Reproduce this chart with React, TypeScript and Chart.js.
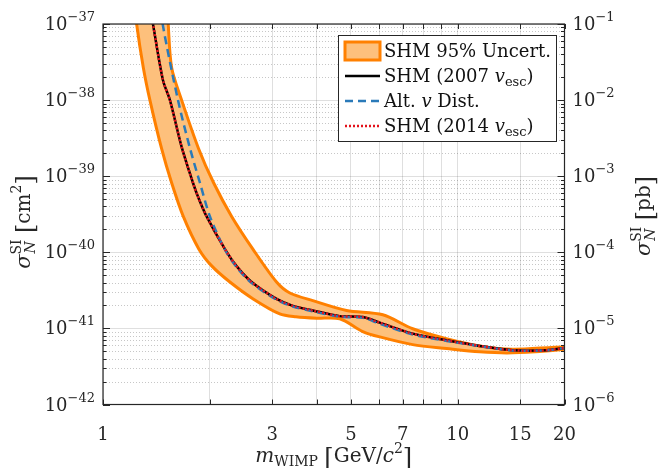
import React, { useEffect, useRef } from 'react';
import { Chart, registerables } from 'chart.js';

Chart.register(...registerables);

// ---------- data ----------
const massSHM2007 = [1.362, 1.383, 1.476, 1.544, 1.666, 1.793, 1.852, 1.959, 2.207, 2.38, 2.624, 3.085, 3.429, 3.904, 4.652, 5.4, 6.03, 7.467, 9.311, 11.53, 14.29, 17.81, 20];
const sigmaSHM2007 = [1.5e-37, 1e-37, 1.82e-38, 1.0e-38, 2.43e-39, 8.2e-40, 5.4e-40, 2.96e-40, 1.1e-40, 6.58e-41, 4.07e-41, 2.44e-41, 1.98e-41, 1.72e-41, 1.45e-41, 1.41e-41, 1.19e-41, 8.53e-42, 6.97e-42, 5.89e-42, 5.16e-42, 5.16e-42, 5.54e-42];

const massSHM2014 = [1.362, 1.383, 1.476, 1.544, 1.666, 1.793, 1.852, 1.959, 2.207, 2.38, 2.624, 3.085, 3.429, 3.904, 4.652, 5.4, 6.03, 7.467, 9.311, 11.53, 14.29, 17.81, 20];
const sigmaSHM2014 = [1.5e-37, 1e-37, 1.82e-38, 1.0e-38, 2.43e-39, 8.2e-40, 5.4e-40, 2.96e-40, 1.1e-40, 6.58e-41, 4.07e-41, 2.44e-41, 1.98e-41, 1.72e-41, 1.45e-41, 1.41e-41, 1.19e-41, 8.53e-42, 6.97e-42, 5.89e-42, 5.16e-42, 5.16e-42, 5.54e-42];

const massAlt = [1.47, 1.473, 1.627, 1.76, 1.876, 2.002, 2.207, 2.38, 2.624, 3.085, 3.429, 3.904, 4.652, 5.4, 6.03, 7.467, 9.311, 11.53, 14.29, 17.81, 20];
const sigmaAlt = [1.5e-37, 1e-37, 1.0e-38, 2.3e-39, 8.2e-40, 2.96e-40, 1.08e-40, 6.4e-41, 3.95e-41, 2.38e-41, 1.94e-41, 1.68e-41, 1.42e-41, 1.38e-41, 1.15e-41, 8.3e-42, 6.85e-42, 5.85e-42, 5.14e-42, 5.16e-42, 5.54e-42];

const massBandUpper = [1.523, 1.527, 1.561, 1.666, 1.86, 2.05, 2.305, 2.646, 3.085, 3.364, 3.904, 4.859, 6.148, 7.467, 9.29, 11.53, 14.29, 20];
const sigmaBandUpper = [1.5e-37, 1e-37, 2.69e-38, 1.0e-38, 2.3e-39, 8.2e-40, 2.96e-40, 1.1e-40, 4.07e-41, 2.92e-41, 2.32e-41, 1.72e-41, 1.51e-41, 9.9e-42, 7.33e-42, 5.89e-42, 5.32e-42, 5.71e-42];

const massBandLower = [1.237, 1.244, 1.299, 1.356, 1.463, 1.561, 1.684, 1.864, 2.028, 2.279, 2.651, 3.15, 3.5, 4.0, 4.65, 5.4, 6.03, 7.467, 9.311, 11.53, 14.29, 20];
const sigmaBandLower = [1.5e-37, 1e-37, 2.69e-38, 1.0e-38, 2.3e-39, 8.2e-40, 2.96e-40, 1.1e-40, 6.58e-41, 4.07e-41, 2.44e-41, 1.55e-41, 1.42e-41, 1.36e-41, 1.34e-41, 9.1e-42, 7.73e-42, 6.12e-42, 5.43e-42, 4.92e-42, 4.78e-42, 5.32e-42];

const xGridTicks = [1, 2, 3, 4, 5, 6, 7, 8, 9, 10, 15, 20];
const xLabelTicks = [1, 3, 5, 7, 10, 15, 20];
const yExponents = [-42, -41, -40, -39, -38, -37];
const pbExponents = [-6, -5, -4, -3, -2, -1];
const minorMultipliers = [2, 3, 4, 5, 6, 7, 8, 9];

const seriesLabels = ['SHM 95% Uncert.', 'SHM (2007 v_esc)', 'Alt. v Dist.', 'SHM (2014 v_esc)'];

// ---------- styles ----------
const FONT = '"DejaVu Serif", "Liberation Serif", serif';
const AX = '#262626';
const ORANGE = '#ff8000';
const BAND_FILL = '#fdc07c';
const BLUE = '#2a7ab9';
const RED = '#e3121b';

type Part = { t?: string; size: number; dy?: number; italic?: boolean; sup?: string; sub?: string; supDy?: number; subDy?: number };

const fontOf = (size: number, italic?: boolean) => `${italic ? 'italic ' : ''}${size}px ${FONT}`;

function drawRich(ctx: CanvasRenderingContext2D, parts: Part[], x: number, y: number, align: 'left' | 'center' | 'right') {
  const widths = parts.map((p) => {
    if (p.sup !== undefined || p.sub !== undefined) {
      ctx.font = fontOf(p.size, false);
      const a = ctx.measureText(p.sup || '').width;
      ctx.font = fontOf(p.size, true);
      const b = ctx.measureText(p.sub || '').width;
      return Math.max(a, b);
    }
    ctx.font = fontOf(p.size, p.italic);
    return ctx.measureText(p.t || '').width;
  });
  const total = widths.reduce((s, w) => s + w, 0);
  let cx = align === 'center' ? x - total / 2 : align === 'right' ? x - total : x;
  ctx.textAlign = 'left';
  ctx.textBaseline = 'alphabetic';
  parts.forEach((p, i) => {
    if (p.sup !== undefined || p.sub !== undefined) {
      ctx.font = fontOf(p.size, false);
      ctx.fillText(p.sup || '', cx, y + (p.supDy || 0));
      ctx.font = fontOf(p.size, true);
      ctx.fillText(p.sub || '', cx + 1, y + (p.subDy || 0));
    } else {
      ctx.font = fontOf(p.size, p.italic);
      ctx.fillText(p.t || '', cx, y + (p.dy || 0));
    }
    cx += widths[i];
  });
}

const sup = (n: number) => (n < 0 ? '\u2212' + Math.abs(n) : String(n));

const toPoints = (xs: number[], ys: number[]) => xs.map((x, i) => ({ x, y: ys[i] }));

const decorPlugin = {
  id: 'decor',
  beforeDatasetsDraw(chart: any) {
    const { ctx, chartArea } = chart;
    const y = chart.scales.y;
    ctx.save();
    ctx.strokeStyle = 'rgba(38,38,38,0.26)';
    ctx.lineWidth = 1;
    ctx.setLineDash([1, 2]);
    for (let i = 0; i < yExponents.length - 1; i++) {
      for (const m of minorMultipliers) {
        const py = Math.round(y.getPixelForValue(m * Math.pow(10, yExponents[i]))) + 0.5;
        ctx.beginPath();
        ctx.moveTo(chartArea.left, py);
        ctx.lineTo(chartArea.right, py);
        ctx.stroke();
      }
    }
    ctx.restore();
  },
  afterDatasetsDraw(chart: any) {
    const { ctx, chartArea } = chart;
    const { left, right, top, bottom } = chartArea;
    const x = chart.scales.x;
    const y = chart.scales.y;
    const y2 = chart.scales.y2;
    ctx.save();
    ctx.strokeStyle = AX;
    ctx.lineWidth = 1.2;
    ctx.setLineDash([]);
    ctx.strokeRect(left, top, right - left, bottom - top);
    // x ticks (inward, bottom and top)
    ctx.lineWidth = 1;
    for (const v of xGridTicks) {
      const px = Math.round(x.getPixelForValue(v)) + 0.5;
      ctx.beginPath();
      ctx.moveTo(px, bottom);
      ctx.lineTo(px, bottom - 5);
      ctx.moveTo(px, top);
      ctx.lineTo(px, top + 5);
      ctx.stroke();
    }
    // y ticks left & right
    for (let i = 0; i < yExponents.length; i++) {
      const pyL = Math.round(y.getPixelForValue(Math.pow(10, yExponents[i]))) + 0.5;
      const pyR = Math.round(y2.getPixelForValue(Math.pow(10, pbExponents[i]))) + 0.5;
      ctx.beginPath();
      ctx.moveTo(left, pyL);
      ctx.lineTo(left + 7, pyL);
      ctx.moveTo(right, pyR);
      ctx.lineTo(right - 7, pyR);
      ctx.stroke();
      if (i < yExponents.length - 1) {
        for (const m of minorMultipliers) {
          const a = Math.round(y.getPixelForValue(m * Math.pow(10, yExponents[i]))) + 0.5;
          const b = Math.round(y2.getPixelForValue(m * Math.pow(10, pbExponents[i]))) + 0.5;
          ctx.beginPath();
          ctx.moveTo(left, a);
          ctx.lineTo(left + 3.5, a);
          ctx.moveTo(right, b);
          ctx.lineTo(right - 3.5, b);
          ctx.stroke();
        }
      }
    }
    // tick labels
    ctx.fillStyle = AX;
    for (const v of xLabelTicks) {
      drawRich(ctx, [{ t: String(v), size: 18 }], x.getPixelForValue(v), bottom + 35, 'center');
    }
    for (let i = 0; i < yExponents.length; i++) {
      const pyL = y.getPixelForValue(Math.pow(10, yExponents[i]));
      drawRich(ctx, [{ t: '10', size: 18 }, { t: sup(yExponents[i]), size: 13, dy: -9 }], left - 8, pyL + 6, 'right');
      const pyR = y2.getPixelForValue(Math.pow(10, pbExponents[i]));
      drawRich(ctx, [{ t: '10', size: 18 }, { t: sup(pbExponents[i]), size: 13, dy: -9 }], right + 8, pyR + 6, 'left');
    }
    // axis titles
    const cxPlot = (left + right) / 2;
    drawRich(
      ctx,
      [
        { t: 'm', size: 20, italic: true },
        { t: 'WIMP', size: 14, dy: 4 },
        { t: ' ', size: 20 },
        { t: '[', size: 24, dy: 3 },
        { t: 'GeV/', size: 20 },
        { t: 'c', size: 20, italic: true },
        { t: '2', size: 14, dy: -9 },
        { t: ']', size: 24, dy: 3 },
      ],
      cxPlot,
      462,
      'center'
    );
    const sigmaParts: Part[] = [
      { t: '\u03c3', size: 21, italic: true },
      { size: 14, sup: 'SI', sub: 'N', supDy: -9, subDy: 5 },
      { t: ' ', size: 20 },
      { t: '[', size: 24, dy: 3 },
    ];
    ctx.save();
    ctx.translate(30, 222);
    ctx.rotate(-Math.PI / 2);
    drawRich(ctx, [...sigmaParts, { t: 'cm', size: 20 }, { t: '2', size: 14, dy: -9 }, { t: ']', size: 24, dy: 3 }], 0, 0, 'center');
    ctx.restore();
    ctx.save();
    ctx.translate(650, 216);
    ctx.rotate(-Math.PI / 2);
    drawRich(ctx, [...sigmaParts, { t: 'pb', size: 20 }, { t: ']', size: 24, dy: 3 }], 0, 0, 'center');
    ctx.restore();

    // legend
    const ds = chart.data.datasets;
    const bx = 338.5, by = 35.5, bw = 218, bh = 106;
    ctx.fillStyle = '#ffffff';
    ctx.fillRect(bx, by, bw, bh);
    ctx.strokeStyle = AX;
    ctx.lineWidth = 1;
    ctx.strokeRect(bx, by, bw, bh);
    const rows = [51, 76, 101, 126];
    const sx0 = 345, sx1 = 380, tx = 384;
    ctx.fillStyle = ds[0].backgroundColor;
    ctx.fillRect(sx0, rows[0] - 9, sx1 - sx0, 18);
    ctx.strokeStyle = ds[0].borderColor;
    ctx.lineWidth = 3;
    ctx.strokeRect(sx0, rows[0] - 9, sx1 - sx0, 18);
    for (let i = 1; i < 4; i++) {
      ctx.strokeStyle = ds[i].borderColor;
      ctx.lineWidth = ds[i].borderWidth;
      ctx.setLineDash(ds[i].borderDash || []);
      ctx.beginPath();
      ctx.moveTo(sx0, rows[i]);
      ctx.lineTo(sx1, rows[i]);
      ctx.stroke();
    }
    ctx.setLineDash([]);
    ctx.fillStyle = '#111111';
    const legendParts = (label: string): Part[] => {
      const out: Part[] = [];
      const re = /v_esc|\bv\b/g;
      let last = 0;
      let m: RegExpExecArray | null;
      while ((m = re.exec(label))) {
        if (m.index > last) out.push({ t: label.slice(last, m.index), size: 18 });
        out.push({ t: 'v', size: 18, italic: true });
        if (m[0] === 'v_esc') out.push({ t: 'esc', size: 13, dy: 4 });
        last = m.index + m[0].length;
      }
      if (last < label.length) out.push({ t: label.slice(last), size: 18 });
      return out;
    };
    seriesLabels.forEach((lab, i) => drawRich(ctx, legendParts(lab), tx, rows[i] + 6, 'left'));
    ctx.restore();
  },
};

export default function App() {
  const ref = useRef<HTMLCanvasElement | null>(null);
  useEffect(() => {
    if (!ref.current) return;
    const band = [
      ...toPoints(massBandUpper, sigmaBandUpper),
      ...toPoints(massBandLower, sigmaBandLower).reverse(),
    ];
    const chart = new Chart(ref.current, {
      type: 'line',
      data: {
        datasets: [
          {
            label: seriesLabels[0],
            data: band,
            borderColor: ORANGE,
            backgroundColor: BAND_FILL,
            borderWidth: 3,
            fill: 'shape',
            pointRadius: 0,
            tension: 0.3,
            order: 4,
            borderJoinStyle: 'round',
          },
          {
            label: seriesLabels[1],
            data: toPoints(massSHM2007, sigmaSHM2007),
            borderColor: '#000000',
            borderWidth: 2.5,
            fill: false,
            pointRadius: 0,
            tension: 0.3,
            order: 3,
          },
          {
            label: seriesLabels[2],
            data: toPoints(massAlt, sigmaAlt),
            borderColor: BLUE,
            borderWidth: 2.5,
            borderDash: [8, 5],
            fill: false,
            pointRadius: 0,
            tension: 0.3,
            order: 2,
          },
          {
            label: seriesLabels[3],
            data: toPoints(massSHM2014, sigmaSHM2014),
            borderColor: RED,
            borderWidth: 2.5,
            borderDash: [2, 2],
            fill: false,
            pointRadius: 0,
            tension: 0.3,
            order: 1,
          },
        ] as any,
      },
      options: {
        animation: false,
        responsive: false,
        events: [],
        layout: { padding: { top: 24, left: 0, right: 0, bottom: 0 } },
        plugins: { legend: { display: false }, tooltip: { enabled: false } },
        scales: {
          x: {
            type: 'logarithmic',
            min: 1,
            max: 20,
            afterBuildTicks: (s: any) => {
              s.ticks = xGridTicks.map((v) => ({ value: v }));
            },
            afterFit: (s: any) => {
              s.height = 63.5;
            },
            ticks: { display: false },
            grid: { color: 'rgba(38,38,38,0.15)', lineWidth: 1, drawTicks: false },
            border: { display: false },
          },
          y: {
            type: 'logarithmic',
            position: 'left',
            min: 1e-42,
            max: 1e-37,
            afterBuildTicks: (s: any) => {
              s.ticks = yExponents.map((e) => ({ value: Math.pow(10, e) }));
            },
            afterFit: (s: any) => {
              s.width = 103;
            },
            ticks: { display: false },
            grid: { color: 'rgba(38,38,38,0.15)', lineWidth: 1, drawTicks: false },
            border: { display: false },
          },
          y2: {
            type: 'logarithmic',
            position: 'right',
            min: 1e-6,
            max: 1e-1,
            afterBuildTicks: (s: any) => {
              s.ticks = pbExponents.map((e) => ({ value: Math.pow(10, e) }));
            },
            afterFit: (s: any) => {
              s.width = 93.5;
            },
            ticks: { display: false },
            grid: { display: false, drawTicks: false },
            border: { display: false },
          },
        } as any,
      },
      plugins: [decorPlugin],
    });
    return () => chart.destroy();
  }, []);
  return (
    <div style={{ position: 'fixed', left: 0, top: 0, width: 658, height: 468, background: '#fff' }}>
      <canvas ref={ref} width={658} height={468} style={{ display: 'block' }} />
    </div>
  );
}
